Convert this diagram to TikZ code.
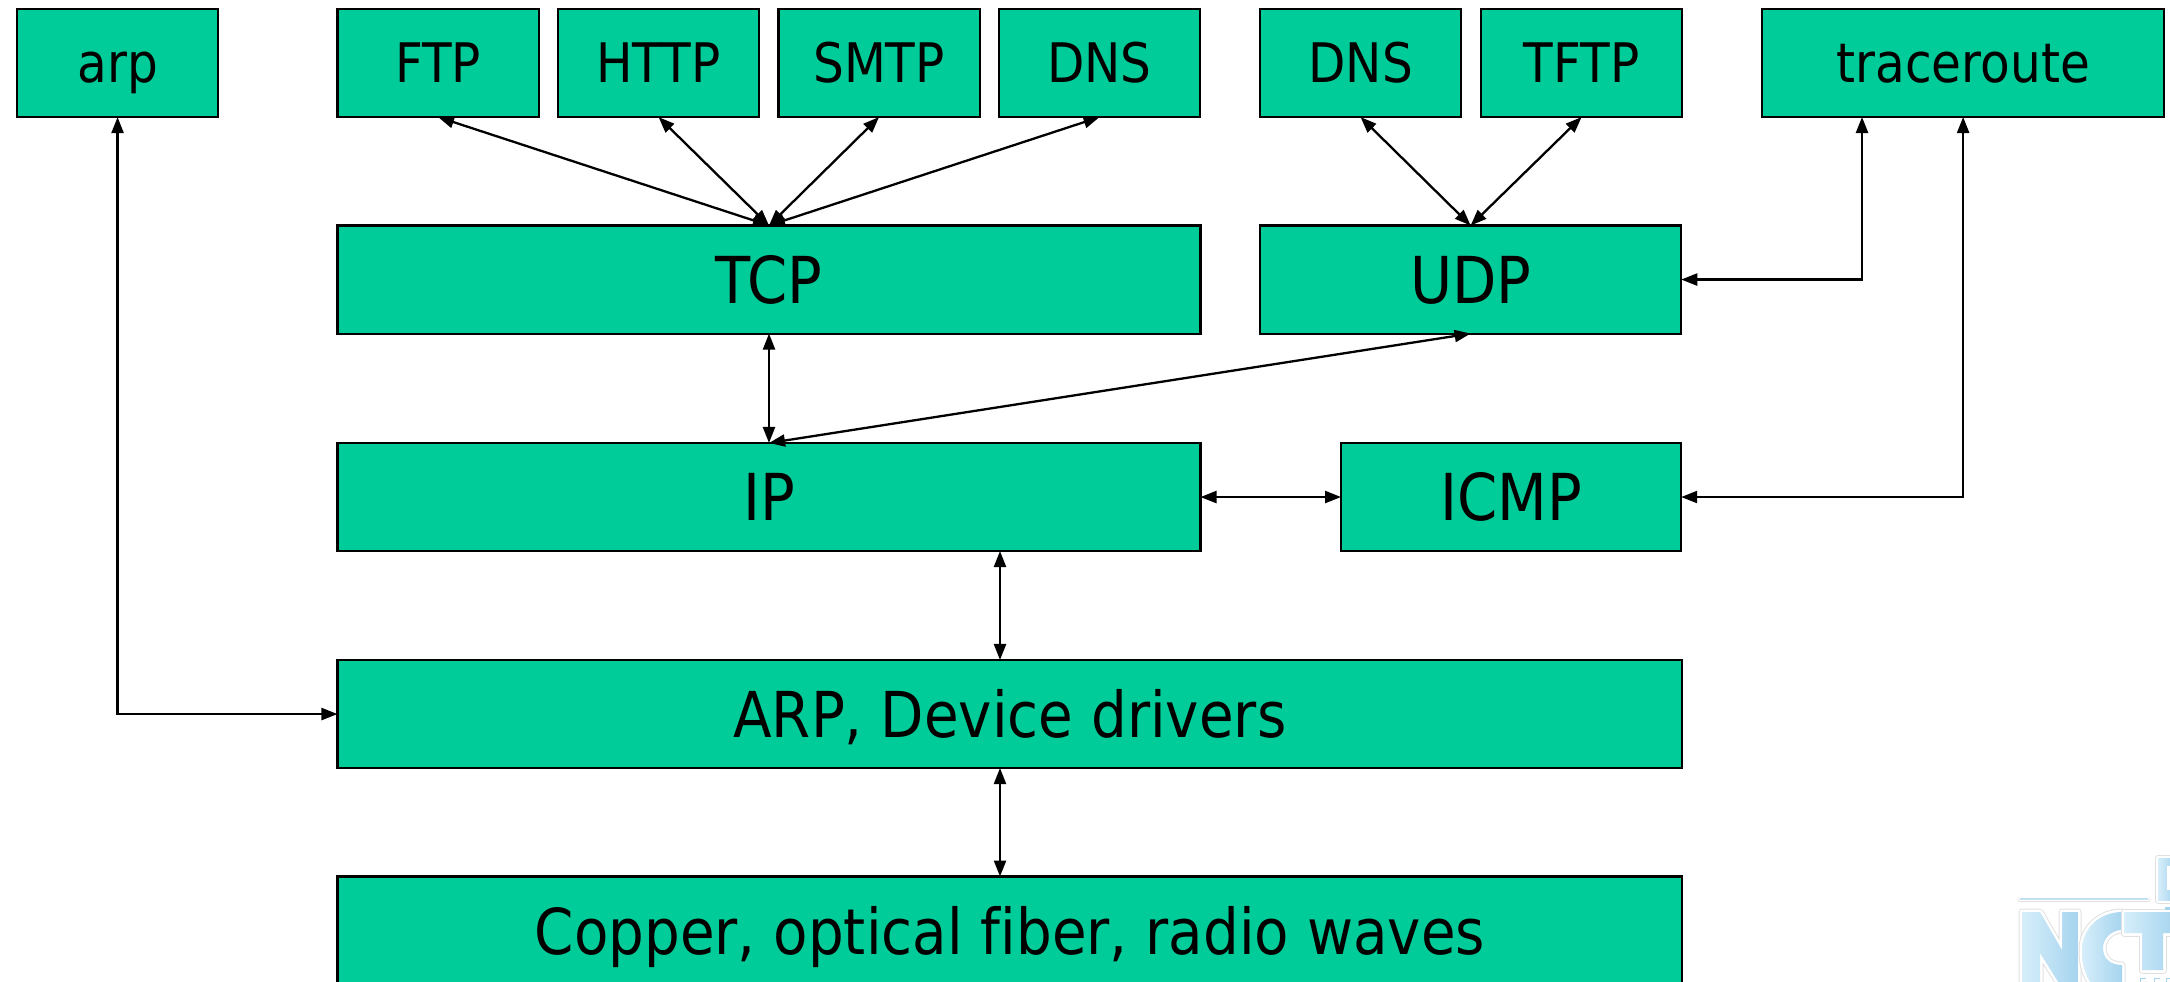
\documentclass[tikz,border=0pt]{standalone}
\usepackage{fontspec}
\setmainfont{DejaVu Sans}[FakeStretch=0.89,Ligatures={NoCommon}]
\usetikzlibrary{arrows.meta}

\begin{document}
\begin{tikzpicture}[x=0.01cm,y=-0.01cm]
    % Colori
    \definecolor{boxgreen}{RGB}{0,204,153}
    \definecolor{logolight}{RGB}{214,238,250}
    \definecolor{logodark}{RGB}{166,212,238}
    \tikzset{
        layer/.style={draw=black,line width=0.021cm,fill=boxgreen,inner sep=0pt,outer sep=0pt,anchor=north west,minimum height=1.08cm,text height=13.4pt,text depth=0pt,font=\fontsize{18.4}{20}\selectfont},
        wide/.style={layer,minimum width=13.44cm,font=\fontsize{18}{20}\selectfont},
        small/.style={layer,minimum width=2.01cm,text height=11.2pt,font=\fontsize{15.5}{18}\selectfont},
        link/.style={draw=black,line width=0.023cm,{Triangle[length=0.16cm,width=0.12cm]}-{Triangle[length=0.16cm,width=0.12cm]}},
        logopart/.style={preaction={draw=black!12,line width=0.07cm,line join=round},preaction={draw=white,line width=0.05cm,line join=round},left color=logolight,right color=logodark}
    }
    \useasboundingbox (0,0) rectangle (2170,982);
    \clip (0,0) rectangle (2170,982);

    % Logo
    \draw[black!12,line width=0.05cm,line cap=round] (2020,899) -- (2148,899);
    \draw[white,line width=0.035cm,line cap=round] (2020,899) -- (2148,899);
    \draw[logodark!70,line width=0.012cm] (2020,899) -- (2148,899);
    \shade[logopart] (2022,912) -- (2040,912) -- (2062,950) -- (2062,912) -- (2078,912) -- (2078,985) -- (2060,985) -- (2040,953) -- (2040,985) -- (2022,985) -- cycle;
    \shade[logopart] (2122,912) .. controls (2100,912) and (2082,928) .. (2082,950) .. controls (2082,965) and (2085,975) .. (2092,985) -- (2122,985) -- (2122,965) .. controls (2112,965) and (2103,960) .. (2103,948) .. controls (2103,938) and (2112,930) .. (2122,930) -- cycle;
    \shade[logopart] (2124,912) -- (2175,912) -- (2175,933) -- (2163,933) -- (2163,970) -- (2142,970) -- (2142,933) -- (2124,933) -- cycle;
    \shade[logopart] (2158,858) -- (2175,858) -- (2175,900) -- (2158,900) -- cycle;
    \fill[white] (2167,866) rectangle (2172,890);
    \fill[logodark] (2165,907) rectangle (2172,910);
    \foreach \xpos in {2140,2154,2166}
        \draw[logodark,line width=0.01cm] (\xpos,982) -- (\xpos,978) -- (\xpos+6,978);

    % Riga applicazioni
    \node[small] (arp) at (17,9) {arp};
    \node[small] (ftp) at (337.5,9) {FTP};
    \node[small] (http) at (558,9) {HTTP};
    \node[small] (smtp) at (778.5,9) {SMTP};
    \node[small] (dns) at (999,9) {DNS};
    \node[small] (dnsb) at (1260,9) {DNS};
    \node[small] (tftp) at (1481,9) {TFTP};
    \node[small,minimum width=4.02cm] (trace) at (1762,9) {traceroute};

    % Livelli
    \node[layer,minimum width=8.625cm] (tcp) at (337.5,225.5) {TCP};
    \node[layer,minimum width=4.21cm] (udp) at (1260,225.5) {UDP};
    \node[layer,minimum width=8.625cm] (ip) at (337.5,443) {IP};
    \node[layer,minimum width=3.40cm] (icmp) at (1341,443) {ICMP};
    \node[wide] (arpdev) at (337.5,660) {ARP, Device drivers};
    \node[wide] (wire) at (337.5,876.5) {Copper, optical fiber, radio waves};

    % Punti liberi
    \coordinate (traceleft) at (1862,117);
    \coordinate (ipdown) at (1000,551);
    \coordinate (arpup) at (1000,660);
    \coordinate (arpdown) at (1000,768);
    \coordinate (wireup) at (1000,876.5);

    % Frecce
    \draw[link] (ftp.south) -- (tcp.north);
    \draw[link] (http.south) -- (tcp.north);
    \draw[link] (smtp.south) -- (tcp.north);
    \draw[link] (dns.south) -- (tcp.north);
    \draw[link] (dnsb.south) -- (udp.north);
    \draw[link] (tftp.south) -- (udp.north);
    \draw[link] (tcp.south) -- (ip.north);
    \draw[link] (udp.south) -- (ip.north);
    \draw[link] (ip.east) -- (icmp.west);
    \draw[link] (ipdown) -- (arpup);
    \draw[link] (arpdown) -- (wireup);
    \draw[link] (arp.south) |- (arpdev.west);
    \draw[link] (traceleft) |- (udp.east);
    \draw[link] (trace.south) |- (icmp.east);
\end{tikzpicture}
\end{document}
